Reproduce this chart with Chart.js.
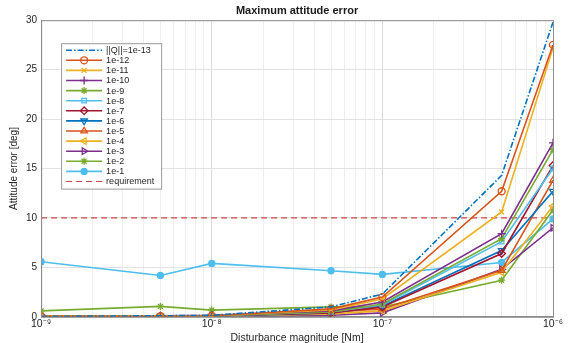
<!DOCTYPE html>
<html>
<head>
<meta charset="utf-8">
<script src="https://cdn.jsdelivr.net/npm/chart.js@4/dist/chart.umd.min.js"></script>
<style>
  html, body { margin: 0; padding: 0; background: #fff; }
  #wrap { width: 570px; height: 343px; }
</style>
</head>
<body>
<div id="wrap"><canvas id="attChart"></canvas></div>
<script>
// disturbance magnitudes [Nm]
const disturbances = [1e-9, 5e-9, 1e-8, 5e-8, 1e-7, 5e-7, 1e-6];

const seriesLabels = ['||Q||=1e-13', '1e-12', '1e-11', '1e-10', '1e-9', '1e-8', '1e-7',
                      '1e-6', '1e-5', '1e-4', '1e-3', '1e-2', '1e-1'];

// maximum attitude error [deg]
const q13 = [0.05, 0.1, 0.15, 1.0, 2.3, 14.3, 29.8];
const q12 = [0.05, 0.05, 0.1, 0.8, 2.0, 12.7, 27.5];
const q11 = [0.1, 0.1, 0.1, 0.7, 1.8, 10.6, 27.2];
const q10 = [0.05, 0.1, 0.15, 0.6, 1.5, 8.4, 17.6];
const q9  = [0.05, 0.05, 0.1, 0.5, 1.3, 7.9, 16.9];
const q8  = [0.05, 0.05, 0.1, 0.5, 1.2, 7.6, 15.0];
const q7  = [0.0, 0.05, 0.1, 0.4, 1.0, 6.4, 15.3];
const q6  = [0.0, 0.05, 0.05, 0.4, 1.1, 6.7, 12.7];
const q5  = [0.05, 0.05, 0.1, 0.5, 0.8, 4.7, 13.8];
const q4  = [0.05, 0.05, 0.05, 0.3, 0.6, 4.5, 11.2];
const q3  = [0.0, 0.0, 0.05, 0.15, 0.4, 4.8, 9.0];
const q2  = [0.6, 1.05, 0.68, 1.0, 1.0, 3.7, 10.8];
const q1  = [5.57, 4.18, 5.4, 4.66, 4.29, 5.5, 9.9];
const seriesValues = [q13, q12, q11, q10, q9, q8, q7, q6, q5, q4, q3, q2, q1];

const requirementValue = 10;
const xMajorTicks = [1e-9, 1e-8, 1e-7, 1e-6];
const xTickLabels = ['10\u207B\u2079', '10\u207B\u2078', '10\u207B\u2077', '10\u207B\u2076'];

// matlab-ish colour order + markers
const colors = ['#0072BD', '#D95319', '#EDB120', '#7E2F8E', '#77AC30', '#4DBEEE', '#A2142F',
                '#0072BD', '#D95319', '#EDB120', '#7E2F8E', '#77AC30', '#4DBEEE'];
const markers = [
  { style: false },
  { style: 'circle', r: 3.5 },
  { style: 'crossRot', r: 3.5 },
  { style: 'cross', r: 4 },
  { style: 'star', r: 3.5 },
  { style: 'rect', r: 3.2 },
  { style: 'rectRot', r: 3.8 },
  { style: 'triangle', r: 3.8, rot: 180 },
  { style: 'triangle', r: 3.8, rot: 0 },
  { style: 'triangle', r: 3.8, rot: 270 },
  { style: 'triangle', r: 3.8, rot: 90 },
  { style: 'star', r: 3.5, fill: true },
  { style: 'circle', r: 3, fill: true }
];

const datasets = seriesLabels.map((lab, i) => {
  const m = markers[i];
  return {
    label: lab,
    data: disturbances.map((x, j) => ({ x: x, y: seriesValues[i][j] })),
    borderColor: colors[i],
    backgroundColor: m.fill ? colors[i] : 'rgba(255,255,255,0)',
    borderWidth: 1.6,
    borderDash: i === 0 ? [6, 2, 1.5, 2] : [],
    pointStyle: m.style,
    pointRadius: m.style ? m.r : 0,
    pointRotation: m.rot || 0,
    pointBorderWidth: 1.3,
    pointBackgroundColor: m.fill ? colors[i] : 'rgba(255,255,255,0)',
    pointBorderColor: colors[i],
    tension: 0
  };
});

datasets.push({
  label: 'requirement',
  data: [{ x: xMajorTicks[0], y: requirementValue }, { x: xMajorTicks[3], y: requirementValue }],
  borderColor: '#C8484A',
  borderWidth: 1.2,
  borderDash: [6, 4],
  pointRadius: 0,
  tension: 0
});

// box + legend drawn inside the axes like matlab
const boxLegend = {
  id: 'boxLegend',
  afterDraw(chart) {
    const ctx = chart.ctx;
    const a = chart.chartArea;
    ctx.save();
    ctx.strokeStyle = '#8c8c8c';
    ctx.lineWidth = 1;
    ctx.strokeRect(a.left + 0.5, a.top + 0.5, a.right - a.left, a.bottom - a.top);

    const lx = a.left + 20, ly = a.top + 23;
    const rowH = 10.1, w = 100;
    const dsets = chart.data.datasets;
    const h = dsets.length * rowH + 4;
    ctx.fillStyle = '#fff';
    ctx.fillRect(lx, ly, w, h);
    ctx.strokeStyle = '#9a9a9a';
    ctx.strokeRect(lx + 0.5, ly + 0.5, w, h);
    ctx.font = '9px "Liberation Sans", Arial, sans-serif';
    ctx.textBaseline = 'middle';
    dsets.forEach((d, i) => {
      const y = ly + 7 + i * rowH;
      ctx.strokeStyle = d.borderColor;
      ctx.lineWidth = d.borderWidth;
      ctx.setLineDash(d.borderDash || []);
      ctx.beginPath();
      ctx.moveTo(lx + 5, y);
      ctx.lineTo(lx + 41, y);
      ctx.stroke();
      ctx.setLineDash([]);
      if (d.pointStyle) {
        ctx.fillStyle = d.pointBackgroundColor;
        ctx.lineWidth = d.pointBorderWidth;
        Chart.helpers.drawPoint(ctx, {
          pointStyle: d.pointStyle, radius: d.pointRadius,
          rotation: d.pointRotation, borderWidth: d.pointBorderWidth
        }, lx + 23, y);
      }
      ctx.fillStyle = '#262626';
      ctx.fillText(d.label, lx + 45, y + 0.5);
    });
    ctx.restore();
  }
};

const ctx = document.getElementById('attChart').getContext('2d');
const attChart = new Chart(ctx, {
  type: 'line',
  data: { datasets: datasets },
  options: {
    responsive: true,
    maintainAspectRatio: false,
    animation: false,
    layout: { padding: { left: 8, right: 17, top: 0, bottom: -1 } },
    scales: {
      x: {
        type: 'logarithmic',
        min: 1e-9,
        max: 1e-6,
        afterBuildTicks: (scale) => {
          const t = [];
          for (let d = 0; d < 3; d++) {
            for (let k = 1; k < 10; k++) t.push({ value: k * xMajorTicks[d], major: k === 1 });
          }
          t.push({ value: xMajorTicks[3], major: true });
          scale.ticks = t;
        },
        ticks: {
          autoSkip: false,
          maxRotation: 0,
          padding: 1,
          color: '#262626',
          font: { family: '"Liberation Sans", Arial, sans-serif', size: 10.5 },
          callback: (v) => {
            const idx = xMajorTicks.findIndex(m => Math.abs(m - v) / m < 1e-6);
            return idx >= 0 ? xTickLabels[idx] : '';
          }
        },
        grid: {
          color: (c) => (c.tick && c.tick.major) ? '#dadada' : '#eeeeee',
          drawTicks: false
        },
        border: { color: '#8c8c8c' },
        title: {
          display: true,
          text: 'Disturbance magnitude [Nm]',
          color: '#262626',
          padding: { top: 0, bottom: 0 },
          font: { family: '"Liberation Sans", Arial, sans-serif', size: 10.5 }
        }
      },
      y: {
        min: 0,
        max: 30,
        ticks: {
          stepSize: 5,
          padding: 4,
          color: '#262626',
          font: { family: '"Liberation Sans", Arial, sans-serif', size: 10 }
        },
        grid: { color: '#e2e2e2', drawTicks: false },
        border: { color: '#8c8c8c' },
        title: {
          display: true,
          text: 'Attitude error [deg]',
          color: '#262626',
          padding: { top: 0, bottom: 2 },
          font: { family: '"Liberation Sans", Arial, sans-serif', size: 10 }
        }
      }
    },
    plugins: {
      legend: { display: false },
      tooltip: { enabled: false },
      title: {
        display: true,
        text: 'Maximum attitude error',
        fullSize: false,
        color: '#1a1a1a',
        padding: { top: 4, bottom: 3 },
        font: { family: '"Liberation Sans", Arial, sans-serif', size: 11, weight: 'bold' }
      }
    }
  },
  plugins: [boxLegend]
});
</script>
</body>
</html>
